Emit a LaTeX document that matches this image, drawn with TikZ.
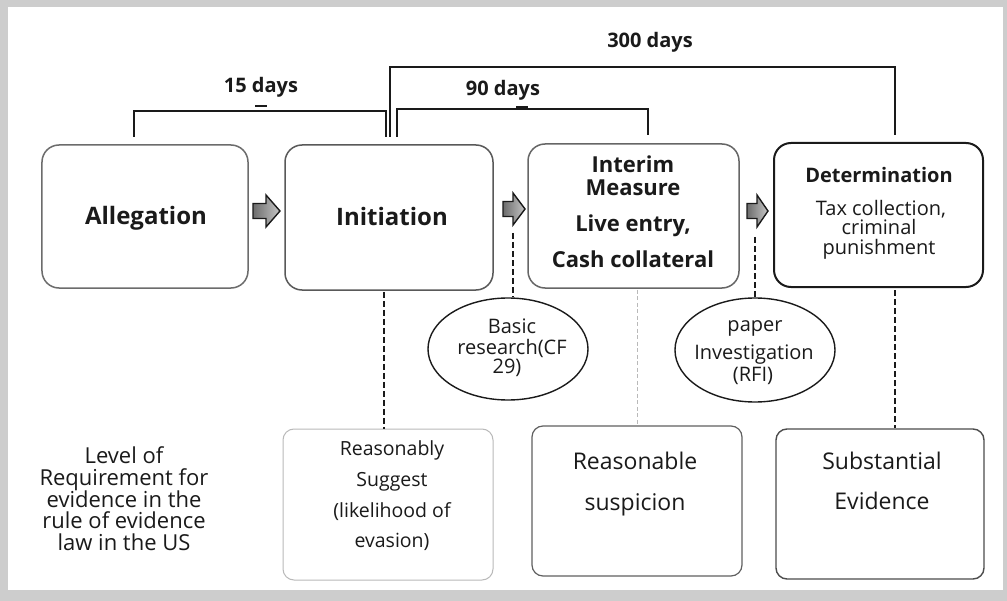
\documentclass[tikz,border=0pt]{standalone}
\usepackage{fontspec}
\setmainfont{Open Sans}
\usetikzlibrary{shapes.geometric,calc}
\definecolor{framegray}{HTML}{CDCDCD}
\definecolor{ink}{HTML}{1A1A1A}
\begin{document}
\begin{tikzpicture}[x=1bp,y=-1bp,
  txt/.style={inner sep=0pt, anchor=base, text=ink},
  bold20/.style={txt, font=\bfseries\fontsize{20bp}{20bp}\selectfont},
  bold22/.style={txt, font=\bfseries\fontsize{22bp}{22bp}\selectfont},
  bold24/.style={txt, font=\bfseries\fontsize{24bp}{24bp}\selectfont},
  reg/.style={txt, font=\fontsize{#1bp}{#1bp}\selectfont},
  topbox/.style={draw, rounded corners=17bp, inner sep=0pt, line width=1.5bp},
  lowbox/.style={draw, rounded corners=11bp, inner sep=0pt},
  oval/.style={draw=ink, ellipse, inner sep=0pt, line width=1.4bp},
  bracket/.style={draw=ink, line width=1.8bp},
  dashline/.style={draw=ink, line width=1.3bp, dash pattern=on 6bp off 3bp},
  lightdash/.style={draw=gray!55, line width=1bp, dash pattern=on 4bp off 2.5bp},
  blockarrow/.style={draw=ink, line width=1.4bp, left color=gray!85!black, right color=gray!45, line join=miter}
]
% frame
\fill[framegray] (0,0) rectangle (1007,601);
\fill[white] (8,7) rectangle (1003,590);
\useasboundingbox (0,0) rectangle (1007,601);

% top boxes
\node[topbox, draw=gray!85!black, minimum width=206bp, minimum height=143bp] (alleg) at (145,216.5) {};
\node[topbox, draw=gray!70!black, minimum width=208bp, minimum height=145bp] (init) at (389,217.5) {};
\node[topbox, draw=gray!80!black, minimum width=211bp, minimum height=144bp] (interim) at (633.5,216) {};
\node[topbox, draw=ink, line width=2bp, minimum width=209bp, minimum height=144bp] (determ) at (878.5,215) {};

% top box texts
\node[bold24] (alleg-t) at (146,225) {Allegation};
\node[bold24] (init-t) at (392,226) {Initiation};
\node[bold22] (interim-t1) at (633,173) {Interim};
\node[bold22] (interim-t2) at (633,196) {Measure};
\node[bold22] (interim-t3) at (633,232) {Live entry,};
\node[bold22] (interim-t4) at (633,268) {Cash collateral};
\node[bold20] (determ-t1) at (879,183) {Determination};
\node[reg=20] (determ-t2) at (881,216) {Tax collection,};
\node[reg=20] (determ-t3) at (879,235) {criminal};
\node[reg=20] (determ-t4) at (879,255) {punishment};

% block arrows between the boxes
\path[blockarrow] (253,203.5) -- (266,203.5) -- (266,195) -- (280,211) -- (266,227) -- (266,218.5) -- (253,218.5) -- cycle;
\path[blockarrow] (503,201.5) -- (513,201.5) -- (513,193) -- (525,209) -- (513,225) -- (513,216.5) -- (503,216.5) -- cycle;
\path[blockarrow] (747,203.5) -- (757,203.5) -- (757,195) -- (768,211) -- (757,227) -- (757,218.5) -- (747,218.5) -- cycle;

% brackets
\coordinate (b15a) at (134,137);
\coordinate (b15b) at (386,137);
\coordinate (b300a) at (390,137);
\coordinate (b300b) at (895,135);
\coordinate (b90a) at (397,137);
\coordinate (b90b) at (648,135);
\draw[bracket] (b15a) -- (134,111) -- (386,111) -- (b15b);
\draw[bracket] (b300a) -- (390,67) -- (895,67) -- (b300b);
\draw[bracket] (b90a) -- (397,109) -- (648,109) -- (b90b);
\node[bold20] (d15) at (261,93) {15 days};
\node[bold20] (d90) at (503,96) {90 days};
\node[bold20] (d300) at (650,48) {300 days};
\draw[ink, line width=1.5bp] (255,106) -- (267,106);
\draw[ink, line width=1.5bp] (516,107) -- (528,107);

% ovals
\node[oval, minimum width=160bp, minimum height=102bp] (basic) at (508,349) {};
\node[oval, minimum width=160bp, minimum height=104bp] (paper) at (755,350) {};
\node[reg=20] (basic-t1) at (512,333) {Basic};
\node[reg=20] (basic-t2) at (512,354) {research(CF};
\node[reg=20] (basic-t3) at (507,373) {29)};
\node[reg=20] (paper-t1) at (755,331) {paper};
\node[reg=20] (paper-t2) at (754,359) {Investigation};
\node[reg=20] (paper-t3) at (753,381) {(RFI)};

% lower boxes
\node[lowbox, draw=gray!55, line width=1bp, minimum width=210bp, minimum height=151bp] (rs) at (388,504.5) {};
\node[lowbox, draw=gray!75!black, line width=1.2bp, minimum width=210bp, minimum height=150bp] (susp) at (637,501) {};
\node[lowbox, draw=gray!60!black, line width=1.4bp, minimum width=208bp, minimum height=150bp] (subs) at (880,504) {};

\node[reg=19.5] (rs-t1) at (392,455) {Reasonably};
\node[reg=19.5] (rs-t2) at (392,486) {Suggest};
\node[reg=19.5] (rs-t3) at (392,517) {(likelihood of};
\node[reg=19.5] (rs-t4) at (392,547) {evasion)};
\node[reg=23] (susp-t1) at (635,469) {Reasonable};
\node[reg=23] (susp-t2) at (635,510) {suspicion};
\node[reg=23] (subs-t1) at (882,469) {Substantial};
\node[reg=23] (subs-t2) at (882,509) {Evidence};

% left caption
\node[reg=22] (lvl1) at (124,463) {Level of};
\node[reg=22] (lvl2) at (124,485) {Requirement for};
\node[reg=22] (lvl3) at (124,507) {evidence in the};
\node[reg=22] (lvl4) at (124,528) {rule of evidence};
\node[reg=22] (lvl5) at (124,550) {law in the US};

% dashed connectors
\coordinate (a2foot) at (513,233);
\coordinate (a3foot) at (755,237);
\coordinate (initfoot) at ($(init.south)+(-5,1)$);
\coordinate (interimfoot) at ($(interim.south)+(3.5,1)$);
\coordinate (determfoot) at ($(determ.south)+(16.5,2)$);
\draw[dashline] (a2foot) -- (a2foot |- basic.north);
\draw[dashline] (a3foot) -- (paper.north);
\draw[dashline] (initfoot) -- (initfoot |- rs.north);
\draw[lightdash] (interimfoot) -- (interimfoot |- susp.north);
\draw[dashline] (determfoot) -- (determfoot |- subs.north);
\end{tikzpicture}
\end{document}
